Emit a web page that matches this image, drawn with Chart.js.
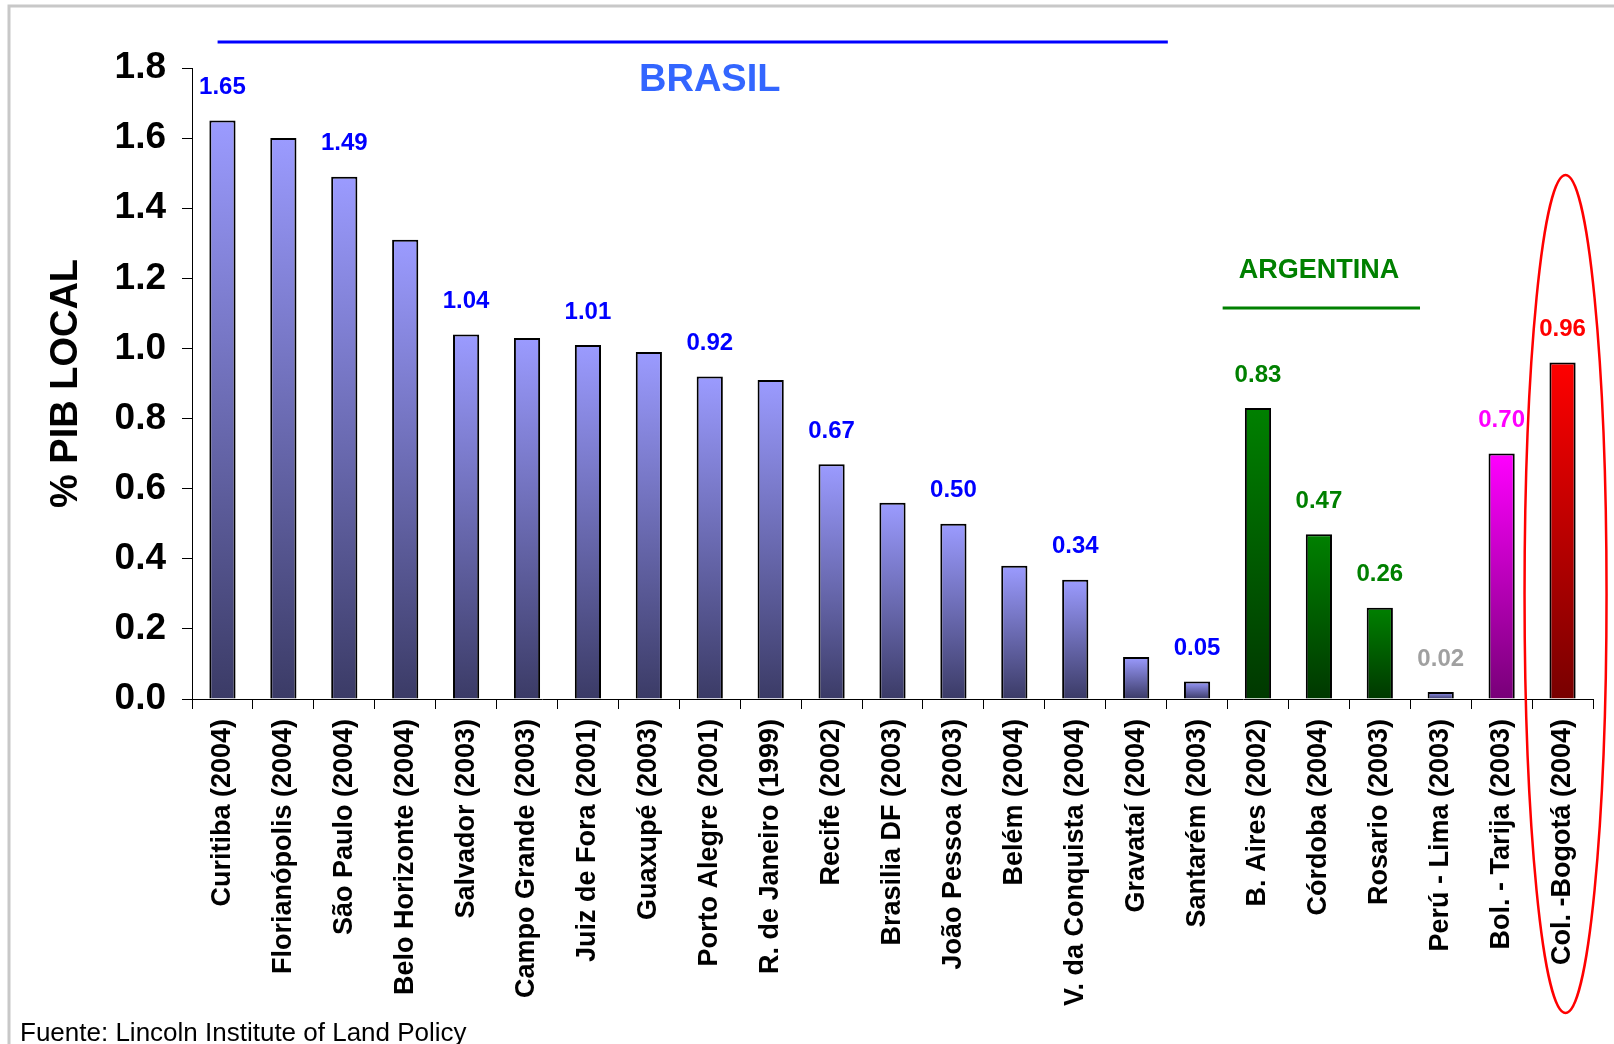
<!DOCTYPE html>
<html>
<head>
<meta charset="utf-8">
<script src="https://cdn.jsdelivr.net/npm/chart.js@4.4.1/dist/chart.umd.min.js"></script>
<style>
  html, body { margin: 0; padding: 0; background: #fff; }
  #wrap { width: 1614px; height: 1044px; position: relative; }
</style>
</head>
<body>
<div id="wrap"><canvas id="chart" width="1614" height="1044"></canvas></div>
<script>
const categories = [
  "Curitiba (2004)", "Florianópolis (2004)", "São Paulo (2004)", "Belo Horizonte (2004)",
  "Salvador (2003)", "Campo Grande (2003)", "Juiz de Fora (2001)", "Guaxupé (2003)",
  "Porto Alegre (2001)", "R. de Janeiro (1999)", "Recife (2002)", "Brasilia DF (2003)",
  "João Pessoa (2003)", "Belém (2004)", "V. da Conquista (2004)", "Gravataí (2004)",
  "Santarém (2003)", "B. Aires (2002)", "Córdoba (2004)", "Rosario (2003)",
  "Perú - Lima (2003)", "Bol. - Tarija (2003)", "Col. -Bogotá (2004)"
];
const values = [
  1.65, 1.60, 1.49, 1.31, 1.04, 1.03, 1.01, 0.99, 0.92, 0.91, 0.67, 0.56,
  0.50, 0.38, 0.34, 0.12, 0.05, 0.83, 0.47, 0.26, 0.02, 0.70, 0.96
];
// which bars carry a value label
const showLabel = [
  true, false, true, false, true, false, true, false, true, false, true, false,
  true, false, true, false, true, true, true, true, true, true, true
];
// group of each bar: colour family
const groups = [
  "br", "br", "br", "br", "br", "br", "br", "br", "br", "br", "br", "br",
  "br", "br", "br", "br", "br", "ar", "ar", "ar", "pe", "bo", "co"
];
const yTicks = [0, 0.2, 0.4, 0.6, 0.8, 1.0, 1.2, 1.4, 1.6, 1.8];

const barColors = {
  br: ["#9b9bff", "#3b3b66"],
  ar: ["#008000", "#003800"],
  pe: ["#9b9bff", "#3b3b66"],
  bo: ["#ff00ff", "#780078"],
  co: ["#ff0000", "#780000"],
};
const labelColors = { br: "#0000ff", ar: "#008000", pe: "#a0a0a0", bo: "#ff00ff", co: "#ff0000" };

function barGradient(ctx) {
  const chart = ctx.chart;
  if (!chart.chartArea) return barColors.br[0];
  const y = chart.scales.y;
  const top = y.getPixelForValue(ctx.raw);
  const bottom = y.getPixelForValue(0);
  const c = barColors[groups[ctx.dataIndex]];
  const g = chart.ctx.createLinearGradient(0, top, 0, bottom);
  g.addColorStop(0, c[0]);
  g.addColorStop(1, c[1]);
  return g;
}

const extras = {
  id: "extras",
  beforeDraw(chart) {
    const c = chart.ctx;
    c.save();
    c.strokeStyle = "#c8c8c8";
    c.lineWidth = 3;
    c.beginPath();
    c.moveTo(9, 1044);
    c.lineTo(9, 6);
    c.lineTo(1614, 6);
    c.stroke();
    c.restore();
  },
  afterDraw(chart) {
    const c = chart.ctx;
    const x = chart.scales.x;
    const y = chart.scales.y;
    const meta = chart.getDatasetMeta(0);
    const step = x.getPixelForValue(1) - x.getPixelForValue(0);
    c.save();

    // value labels
    c.font = "bold 24px 'Liberation Sans', Arial, sans-serif";
    c.textAlign = "center";
    c.textBaseline = "middle";
    meta.data.forEach((bar, i) => {
      if (!showLabel[i]) return;
      c.fillStyle = labelColors[groups[i]];
      c.fillText(values[i].toFixed(2), bar.x, y.getPixelForValue(values[i]) - 33);
    });

    // BRASIL bracket
    c.strokeStyle = "#0000ff";
    c.lineWidth = 3;
    c.beginPath();
    c.moveTo(x.getPixelForValue(0) - 0.08 * step, 42);
    c.lineTo(x.getPixelForValue(15) + 0.52 * step, 42);
    c.stroke();
    c.fillStyle = "#3366ff";
    c.font = "bold 38px 'Liberation Sans', Arial, sans-serif";
    c.fillText("BRASIL", x.getPixelForValue(8), 81);

    // ARGENTINA bracket
    c.strokeStyle = "#008000";
    c.beginPath();
    c.moveTo(x.getPixelForValue(16) + 0.42 * step, 308);
    c.lineTo(x.getPixelForValue(19) + 0.66 * step, 308);
    c.stroke();
    c.fillStyle = "#008000";
    c.font = "bold 27px 'Liberation Sans', Arial, sans-serif";
    c.fillText("ARGENTINA", x.getPixelForValue(18), 271);

    // highlight ellipse around Bogotá
    c.strokeStyle = "#ff0000";
    c.lineWidth = 2.5;
    c.beginPath();
    c.ellipse(x.getPixelForValue(22) + 3, 594, 41, 419, 0, 0, Math.PI * 2);
    c.stroke();

    // source
    c.fillStyle = "#000";
    c.textAlign = "left";
    c.textBaseline = "alphabetic";
    c.font = "26px 'Liberation Sans Narrow', 'Arial Narrow', Arial, sans-serif";
    c.fillText("Fuente: Lincoln Institute of Land Policy", 20, 1041);
    c.restore();
  }
};

new Chart(document.getElementById("chart"), {
  type: "bar",
  data: {
    labels: categories,
    datasets: [{
      data: values,
      backgroundColor: barGradient,
      borderColor: "#000",
      borderWidth: 2,
      borderSkipped: "bottom",
      barPercentage: 0.43,
      categoryPercentage: 1,
    }],
  },
  options: {
    responsive: false,
    animation: false,
    layout: { padding: { left: 0, top: 68, right: 21, bottom: 0 } },
    plugins: { legend: { display: false }, tooltip: { enabled: false } },
    scales: {
      x: {
        grid: { drawOnChartArea: false, drawTicks: true, tickLength: 10, color: "#000", offset: true },
        border: { color: "#000", width: 1 },
        ticks: {
          autoSkip: false, maxRotation: 90, minRotation: 90, padding: 10,
          color: "#000", font: { family: "'Liberation Sans', Arial, sans-serif", size: 27, weight: "bold" },
        },
        afterFit(scale) { scale.height = 345; },
      },
      y: {
        min: 0,
        max: 1.8,
        afterBuildTicks(scale) { scale.ticks = yTicks.map((v) => ({ value: v })); },
        grid: { drawOnChartArea: false, drawTicks: true, tickLength: 10, color: "#000" },
        border: { color: "#000", width: 1 },
        ticks: {
          padding: 16, color: "#000",
          font: { family: "'Liberation Sans', Arial, sans-serif", size: 37, weight: "bold" },
          callback: (v) => Number(v).toFixed(1),
        },
        title: {
          display: true, text: "% PIB LOCAL", color: "#000",
          font: { family: "'Liberation Sans', Arial, sans-serif", size: 38, weight: "bold" },
          padding: { top: 44, bottom: 0 },
        },
        afterFit(scale) { scale.width = 192; },
      },
    },
  },
  plugins: [extras],
});
</script>
</body>
</html>
